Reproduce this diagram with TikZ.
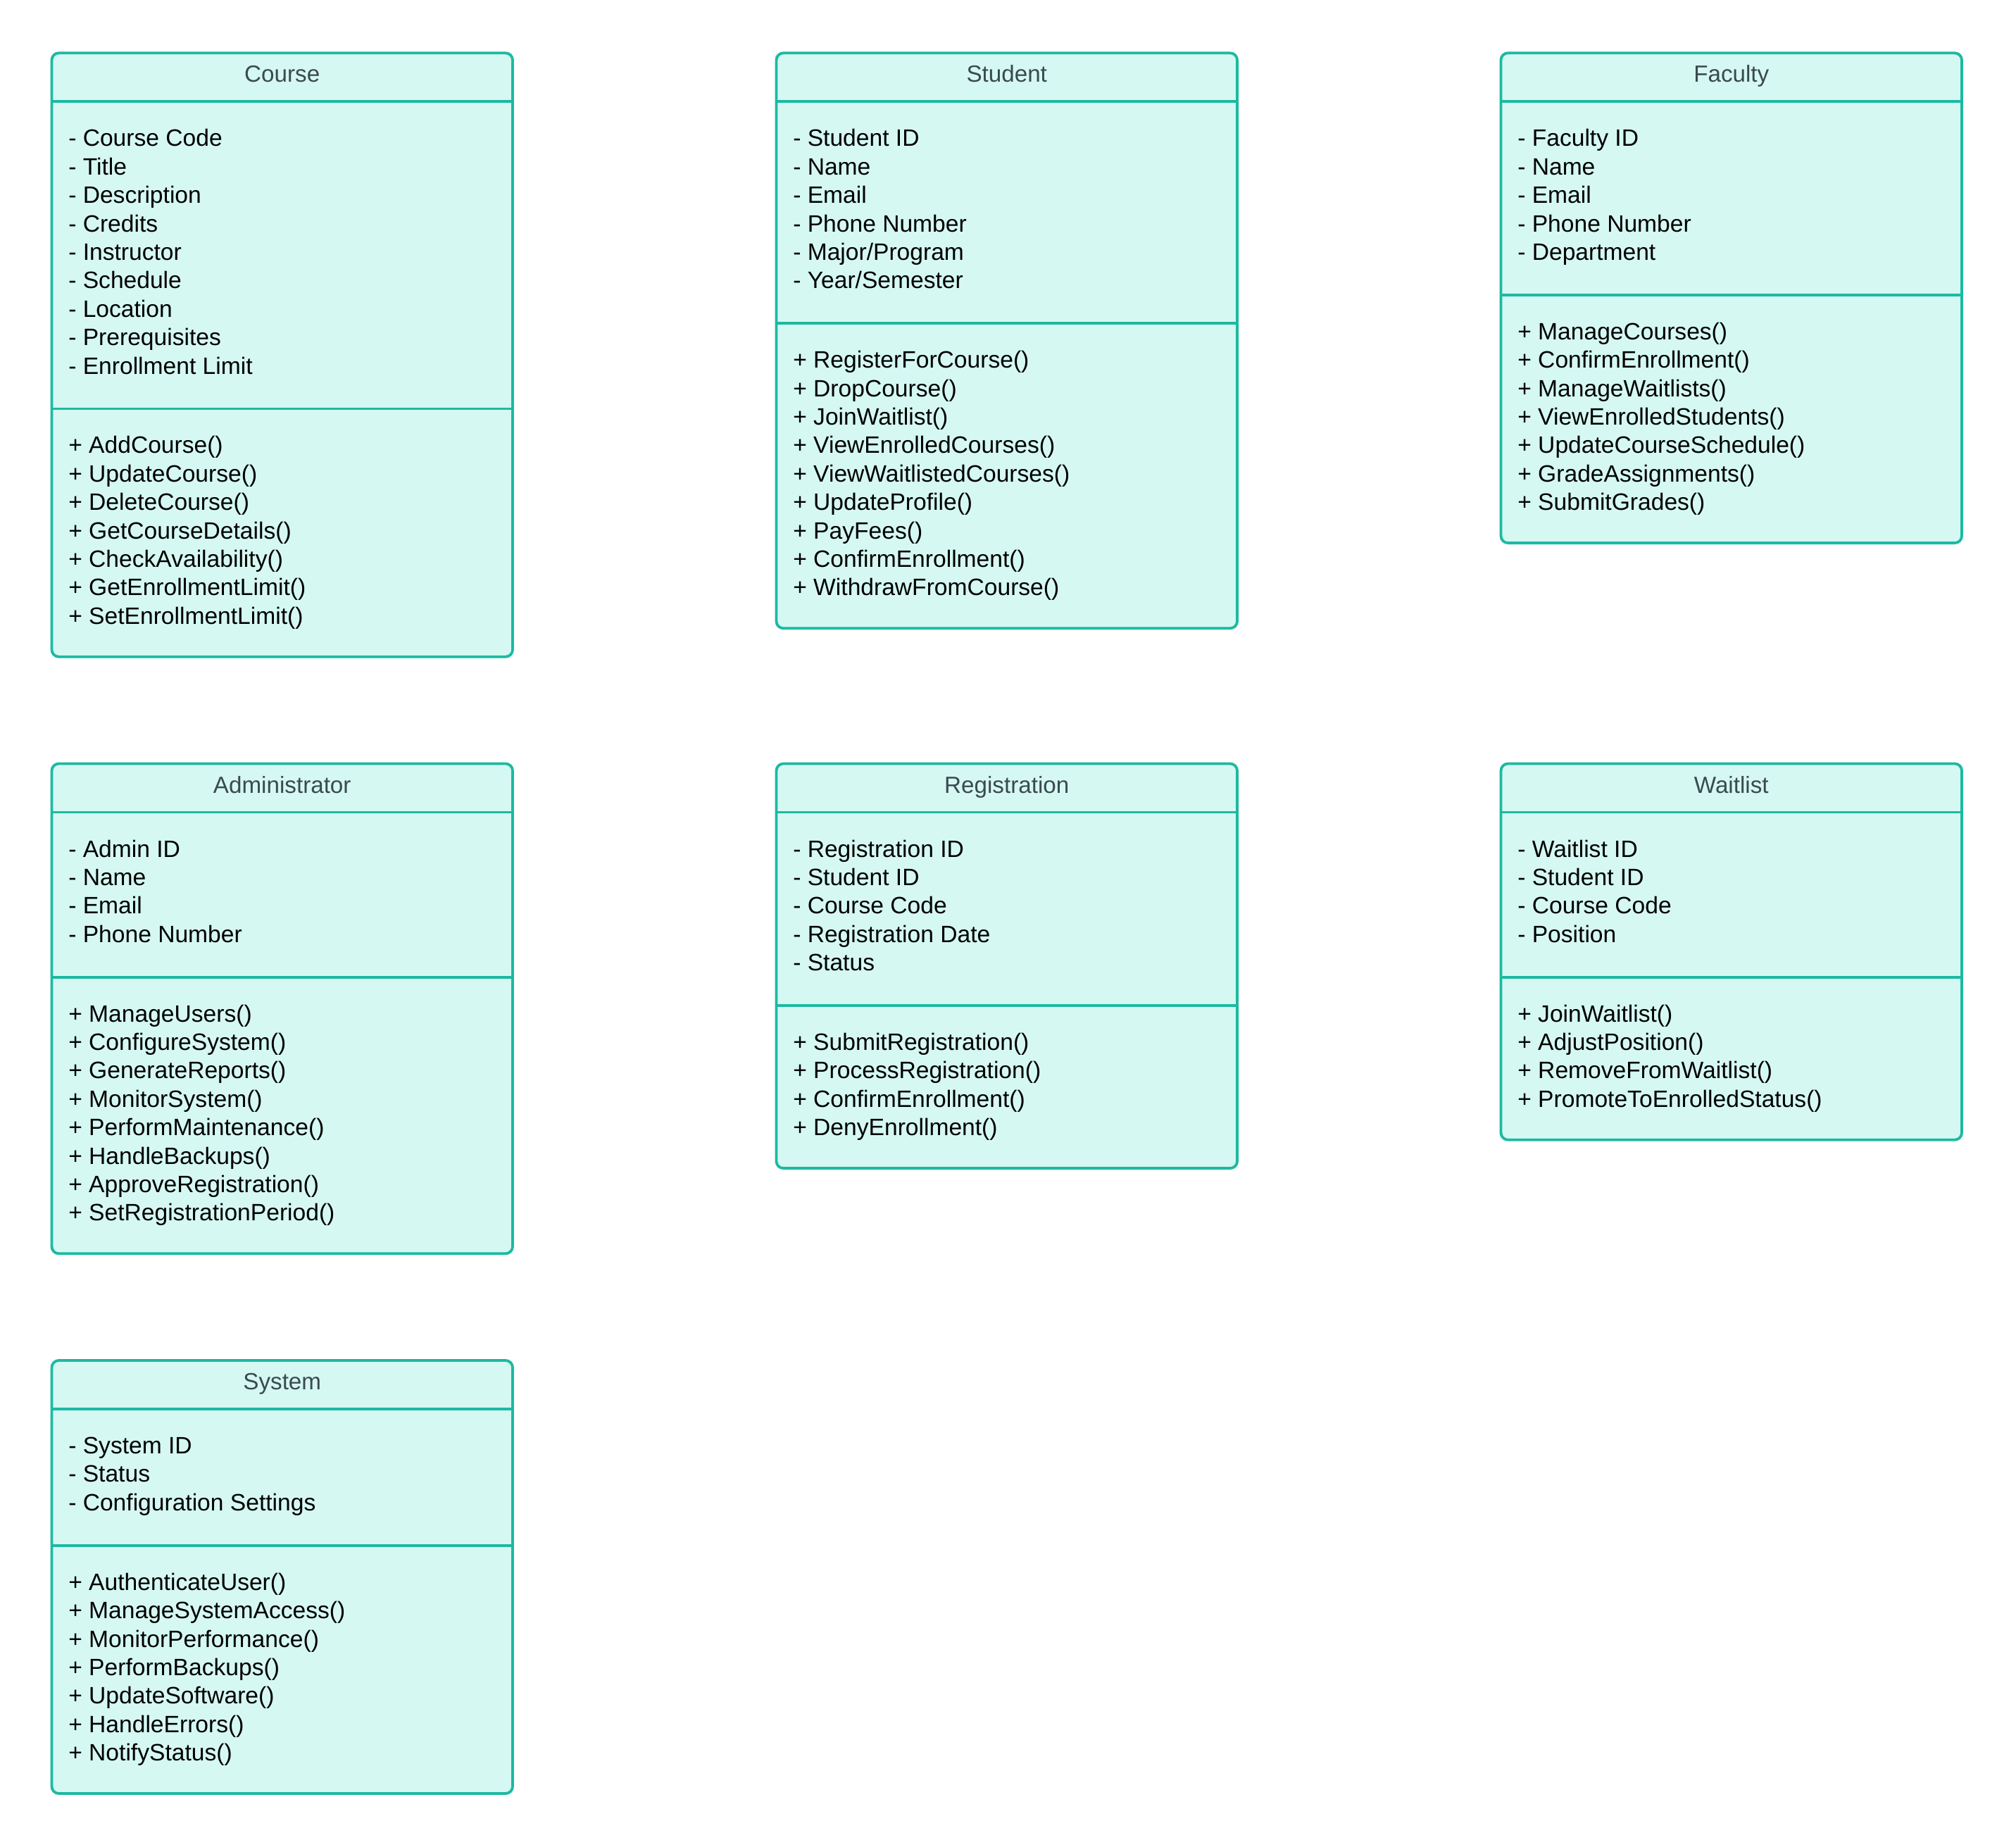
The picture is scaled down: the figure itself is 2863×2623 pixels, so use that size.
\documentclass[tikz,border=0pt]{standalone}
\usepackage{fontspec}
\setmainfont{Liberation Sans}
\definecolor{clsstroke}{HTML}{1DB9A2}
\definecolor{clsfill}{HTML}{D5F8F2}
\definecolor{clstitle}{HTML}{3A4A50}

% One UML class box: name, left x, top y, title, #attrs, attrs, #methods, methods
\newcommand\umlclass[8]{%
  \pgfmathsetmacro\clsR{#2+654.5}%
  \pgfmathsetmacro\clsH{#3+69}%
  \pgfmathsetmacro\clsS{\clsH+72.5+40.4*#5}%
  \pgfmathsetmacro\clsB{\clsS+69.5+40.4*#7}%
  \draw[classbox] (#2,#3) rectangle (\clsR,\clsB);
  \draw[classline] (#2,\clsH) -- (\clsR,\clsH);
  \draw[classline] (#2,\clsS) -- (\clsR,\clsS);
  \node[classtitle] (#1-title) at ({#2+327.25},{#3+41.5}) {#4};
  \foreach \t [count=\i] in {#6}
    \node[member] (#1-a\i) at ({#2+23},{\clsH+63.5+40.4*(\i-1)}) {\t};
  \foreach \t [count=\i] in {#8}
    \node[member] (#1-m\i) at ({#2+23},{\clsS+63.5+40.4*(\i-1)}) {\t};
}

\tikzset{
  classbox/.style={draw=clsstroke, fill=clsfill, line width=0.95pt, rounded corners=2.5pt},
  classline/.style={draw=clsstroke, line width=0.95pt},
  classtitle/.style={anchor=base, inner sep=0pt, text=clstitle,
    font=\fontsize{8.3pt}{10.1pt}\selectfont},
  member/.style={anchor=base west, inner sep=0pt, text=black,
    font=\fontsize{8.4pt}{10.1pt}\selectfont},
}

\begin{document}
\begin{tikzpicture}[x=0.25pt, y=-0.25pt]
  \path[use as bounding box, fill=white] (0,0) rectangle (2863,2623);

  \umlclass{course}{73.5}{75.3}{Course}
    {9}{- Course Code, - Title, - Description, - Credits, - Instructor, - Schedule, - Location, - Prerequisites, - Enrollment Limit}
    {7}{+ AddCourse(), + UpdateCourse(), + DeleteCourse(), + GetCourseDetails(), + CheckAvailability(), + GetEnrollmentLimit(), + SetEnrollmentLimit()}

  \umlclass{student}{1102.5}{75.3}{Student}
    {6}{- Student ID, - Name, - Email, - Phone Number, - Major/Program, - Year/Semester}
    {9}{+ RegisterForCourse(), + DropCourse(), + JoinWaitlist(), + ViewEnrolledCourses(), + ViewWaitlistedCourses(), + UpdateProfile(), + PayFees(), + ConfirmEnrollment(), + WithdrawFromCourse()}

  \umlclass{faculty}{2131.5}{75.3}{Faculty}
    {5}{- Faculty ID, - Name, - Email, - Phone Number, - Department}
    {7}{+ ManageCourses(), + ConfirmEnrollment(), + ManageWaitlists(), + ViewEnrolledStudents(), + UpdateCourseSchedule(), + GradeAssignments(), + SubmitGrades()}

  \umlclass{admin}{73.5}{1084.5}{Administrator}
    {4}{- Admin ID, - Name, - Email, - Phone Number}
    {8}{+ ManageUsers(), + ConfigureSystem(), + GenerateReports(), + MonitorSystem(), + PerformMaintenance(), + HandleBackups(), + ApproveRegistration(), + SetRegistrationPeriod()}

  \umlclass{registration}{1102.5}{1084.5}{Registration}
    {5}{- Registration ID, - Student ID, - Course Code, - Registration Date, - Status}
    {4}{+ SubmitRegistration(), + ProcessRegistration(), + ConfirmEnrollment(), + DenyEnrollment()}

  \umlclass{waitlist}{2131.5}{1084.5}{Waitlist}
    {4}{- Waitlist ID, - Student ID, - Course Code, - Position}
    {4}{+ JoinWaitlist(), + AdjustPosition(), + RemoveFromWaitlist(), + PromoteToEnrolledStatus()}

  \umlclass{system}{73.5}{1932}{System}
    {3}{- System ID, - Status, - Configuration Settings}
    {7}{+ AuthenticateUser(), + ManageSystemAccess(), + MonitorPerformance(), + PerformBackups(), + UpdateSoftware(), + HandleErrors(), + NotifyStatus()}
\end{tikzpicture}
\end{document}
